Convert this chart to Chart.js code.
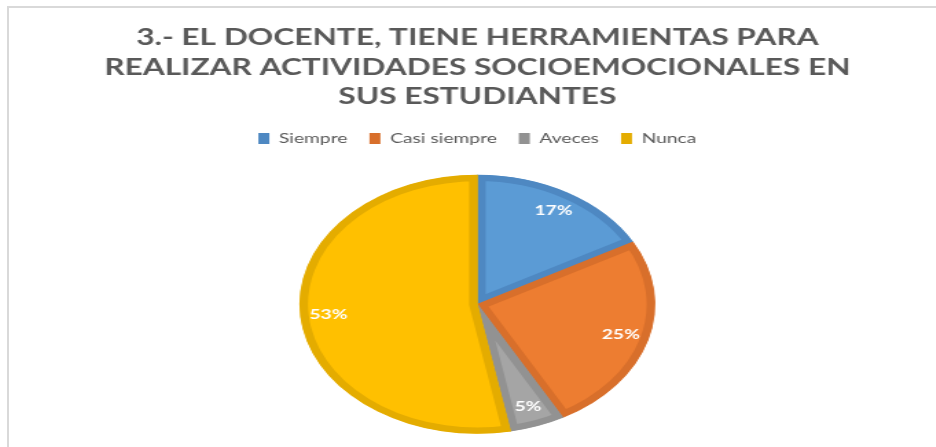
<!DOCTYPE html>
<html>
<head>
<meta charset="utf-8">
<script src="https://cdn.jsdelivr.net/npm/chart.js@4.4.1/dist/chart.umd.min.js"></script>
<style>
  html, body { margin: 0; padding: 0; background: #fff; overflow: hidden; }
  body { width: 936px; height: 447px; position: relative; }
  /* light frame, only top and left edges show in the original crop */
  .frame {
    position: absolute; left: 7px; top: 6px; right: 0; bottom: 0;
    border-top: 2px solid #d9d9d9; border-left: 2px solid #d9d9d9;
  }
  /* the original picture is stretched sideways, so the chart is too */
  .wrap {
    position: absolute; left: 4px; top: 0;
    width: 681px; height: 447px;
    transform: scaleX(1.3744); transform-origin: 0 0;
  }
</style>
</head>
<body>
<div class="frame"></div>
<div class="wrap"><canvas id="chart"></canvas></div>
<script>
const titleLines = [
  "3.- EL DOCENTE, TIENE HERRAMIENTAS PARA",
  "REALIZAR ACTIVIDADES SOCIOEMOCIONALES EN",
  "SUS ESTUDIANTES"
];
const categories = ["Siempre", "Casi siempre", "Aveces", "Nunca"];
const percents = [17, 25, 5, 53];
const fills = ["#5B9BD5", "#ED7D31", "#A5A5A5", "#FFC000"];
const edges = ["#4E88C2", "#D86F2B", "#929292", "#E4AC00"];

const textGray = "#595959";

// white % labels inside the slices
const sliceLabels = {
  id: "sliceLabels",
  afterDatasetsDraw(chart) {
    const ctx = chart.ctx;
    const arcs = chart.getDatasetMeta(0).data;
    ctx.save();
    ctx.font = "bold 14px Lato";
    ctx.fillStyle = "#fff";
    ctx.textAlign = "center";
    ctx.textBaseline = "middle";
    arcs.forEach((arc, i) => {
      const p = arc.getProps(["x", "y", "startAngle", "endAngle", "outerRadius"], true);
      const mid = (p.startAngle + p.endAngle) / 2;
      const r = p.outerRadius * 0.84;
      ctx.fillText(percents[i] + "%", p.x + Math.cos(mid) * r, p.y + Math.sin(mid) * r);
    });
    ctx.restore();
  }
};

new Chart(document.getElementById("chart"), {
  type: "pie",
  data: {
    labels: categories,
    datasets: [{
      data: percents,
      backgroundColor: fills,
      borderColor: edges,
      borderWidth: 6,
      borderAlign: "inner",
      radius: 129.5
    }]
  },
  options: {
    responsive: true,
    maintainAspectRatio: false,
    animation: false,
    events: [],
    layout: { padding: { top: 0, left: 7.8, right: 0, bottom: 0 } },
    plugins: {
      title: {
        display: true,
        text: titleLines,
        color: textGray,
        font: { family: "Lato", size: 23, weight: "bold", lineHeight: 1.283 },
        padding: { top: 23, bottom: 4 }
      },
      // empty subtitle used as a small gap between legend and pie
      subtitle: {
        display: true,
        text: "",
        weight: 500,
        font: { size: 1, lineHeight: 1 },
        padding: { top: 0, bottom: 5 }
      },
      legend: {
        position: "top",
        labels: {
          color: textGray,
          font: { family: "Lato", size: 14 },
          boxWidth: 8,
          boxHeight: 11,
          padding: 16,
          generateLabels(chart) {
            return Chart.overrides.pie.plugins.legend.labels.generateLabels(chart)
              .map((item, i) => ({ ...item, fillStyle: edges[i], lineWidth: 0 }));
          }
        }
      },
      tooltip: { enabled: false }
    }
  },
  plugins: [sliceLabels]
});
</script>
</body>
</html>
